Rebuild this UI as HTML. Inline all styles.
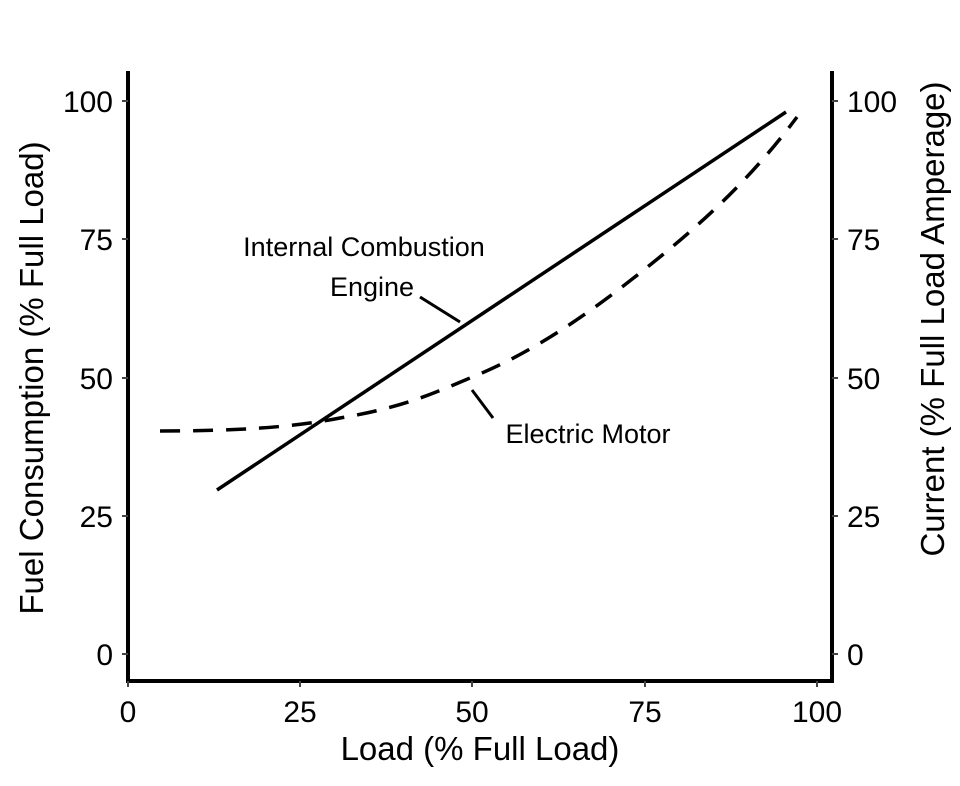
<!DOCTYPE html>
<html><head><style>body{margin:0;background:#fff}svg{display:block}text{font-family:"Liberation Sans",sans-serif;fill:#000}</style></head><body>
<svg width="960" height="786" viewBox="0 0 960 786">
<rect width="960" height="786" fill="#fff"/>
<g stroke="#000" stroke-width="4" fill="none">
<path d="M128 71 V681 H832 V71"/>
</g>
<g stroke="#444" stroke-width="2">
<path d="M122 101H128M122 239H128M122 378H128M122 516H128M122 654H128"/>
<path d="M832 101H838M832 239H838M832 378H838M832 516H838M832 654H838"/>
<path d="M128 681V687M300 681V687M472 681V687M645 681V687M817 681V687"/>
</g>
<g font-size="30" text-anchor="end">
<text x="113" y="112">100</text><text x="113" y="250">75</text><text x="113" y="389">50</text><text x="113" y="527">25</text><text x="113" y="665">0</text>
</g>
<g font-size="30" text-anchor="start">
<text x="847" y="112">100</text><text x="847" y="250">75</text><text x="847" y="389">50</text><text x="847" y="527">25</text><text x="847" y="665">0</text>
</g>
<g font-size="30" text-anchor="middle">
<text x="128" y="722">0</text><text x="300" y="722">25</text><text x="472" y="722">50</text><text x="645" y="722">75</text><text x="817" y="722">100</text>
<text x="480" y="760" font-size="33">Load (% Full Load)</text>
<text transform="translate(43,378) rotate(-90)" font-size="33">Fuel Consumption (% Full Load)</text>
<text transform="translate(944,319) rotate(-90)" font-size="33">Current (% Full Load Amperage)</text>
</g>
<path d="M217 490 L786 112" stroke="#000" stroke-width="3.5" fill="none"/>
<path d="M160 431 C230 431 290 428 340 418 C400 408 430 395 470 378 C540 350 600 305 650 265 C700 225 750 180 797 117" stroke="#000" stroke-width="3.5" fill="none" stroke-dasharray="20 13"/>
<path d="M420 297 L460 322" stroke="#000" stroke-width="3"/>
<path d="M472 390 L493 418" stroke="#000" stroke-width="3"/>
<g font-size="27" text-anchor="middle">
<text x="364" y="256">Internal Combustion</text>
<text x="372" y="296">Engine</text>
<text x="588" y="443">Electric Motor</text>
</g>
</svg>
</body></html>
